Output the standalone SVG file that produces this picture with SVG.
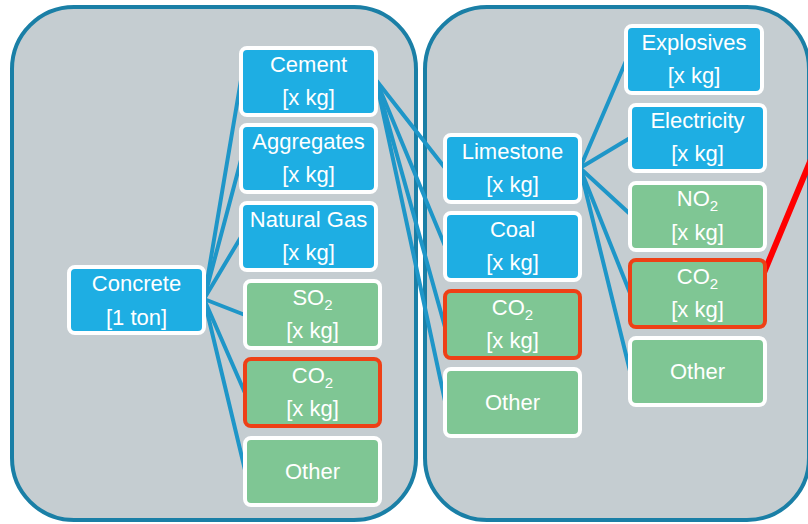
<svg xmlns="http://www.w3.org/2000/svg" width="808" height="524" viewBox="0 0 808 524">
<style>
.panel{fill:#c5cdd1;stroke:#1a7fa6;stroke-width:4}
.blue{fill:#1eaee3;stroke:#ffffff;stroke-width:4}
.green{fill:#7fc694;stroke:#ffffff;stroke-width:4}
.hl{fill:#7fc694;stroke:#ee4016;stroke-width:4}
.t{font-family:"Liberation Sans",Arial,sans-serif;font-size:22px;fill:#ffffff;text-anchor:middle}
.sub{font-size:15px}
.conn line{stroke:#1e96c8;stroke-width:4;stroke-linecap:round}
</style>
<rect width="808" height="524" fill="#ffffff"/>
<g id="panel-left"><rect class="panel" x="12" y="7" width="404" height="513" rx="62"/></g>
<g id="panel-right"><rect class="panel" x="425" y="7" width="384" height="513" rx="62"/></g>
<g class="conn" id="connectors">
<line x1="204" y1="299" x2="241" y2="80"/>
<line x1="204" y1="299" x2="241" y2="160"/>
<line x1="204" y1="299" x2="241" y2="237"/>
<line x1="204" y1="299" x2="245" y2="315"/>
<line x1="204" y1="299" x2="245" y2="393"/>
<line x1="204" y1="299" x2="245" y2="470"/>
<line x1="376" y1="80" x2="445" y2="168"/>
<line x1="376" y1="80" x2="445" y2="246"/>
<line x1="376" y1="80" x2="445" y2="327"/>
<line x1="376" y1="80" x2="445" y2="401"/>
<line x1="580" y1="168" x2="626" y2="61"/>
<line x1="580" y1="168" x2="630" y2="138"/>
<line x1="580" y1="168" x2="630" y2="214"/>
<line x1="580" y1="168" x2="630" y2="293"/>
<line x1="580" y1="168" x2="630" y2="371"/>
<line x1="763" y1="275" x2="812" y2="157" style="stroke:#ff0000;stroke-width:6"/>
</g>
<g id="concrete"><rect class="blue" x="69" y="267" width="135" height="66" rx="6"/><text class="t" x="136.5" y="291">Concrete</text><text class="t" x="136.5" y="325">[1 ton]</text></g>
<g id="cement"><rect class="blue" x="241" y="48" width="135" height="67" rx="6"/><text class="t" x="308.5" y="72">Cement</text><text class="t" x="308.5" y="105">[x kg]</text></g>
<g id="aggregates"><rect class="blue" x="241" y="125" width="135" height="67" rx="6"/><text class="t" x="308.5" y="149">Aggregates</text><text class="t" x="308.5" y="182">[x kg]</text></g>
<g id="natural-gas"><rect class="blue" x="241" y="203" width="135" height="67" rx="6"/><text class="t" x="308.5" y="227">Natural Gas</text><text class="t" x="308.5" y="260">[x kg]</text></g>
<g id="so2"><rect class="green" x="245" y="281" width="135" height="67" rx="6"/><text class="t" x="312.5" y="305">SO<tspan class="sub" dy="5">2</tspan></text><text class="t" x="312.5" y="338">[x kg]</text></g>
<g id="co2-left"><rect class="hl" x="245" y="359" width="135" height="67" rx="6"/><text class="t" x="312.5" y="383">CO<tspan class="sub" dy="5">2</tspan></text><text class="t" x="312.5" y="416">[x kg]</text></g>
<g id="other-left"><rect class="green" x="245" y="438" width="135" height="67" rx="6"/><text class="t" x="312.5" y="479">Other</text></g>
<g id="limestone"><rect class="blue" x="445" y="135" width="135" height="67" rx="6"/><text class="t" x="512.5" y="159">Limestone</text><text class="t" x="512.5" y="192">[x kg]</text></g>
<g id="coal"><rect class="blue" x="445" y="213" width="135" height="67" rx="6"/><text class="t" x="512.5" y="237">Coal</text><text class="t" x="512.5" y="270">[x kg]</text></g>
<g id="co2-mid"><rect class="hl" x="445" y="291" width="135" height="67" rx="6"/><text class="t" x="512.5" y="315">CO<tspan class="sub" dy="5">2</tspan></text><text class="t" x="512.5" y="348">[x kg]</text></g>
<g id="other-mid"><rect class="green" x="445" y="369" width="135" height="67" rx="6"/><text class="t" x="512.5" y="410">Other</text></g>
<g id="explosives"><rect class="blue" x="626" y="26" width="136" height="67" rx="6"/><text class="t" x="694" y="50">Explosives</text><text class="t" x="694" y="83">[x kg]</text></g>
<g id="electricity"><rect class="blue" x="630" y="105" width="135" height="66" rx="6"/><text class="t" x="697.5" y="128">Electricity</text><text class="t" x="697.5" y="161">[x kg]</text></g>
<g id="no2"><rect class="green" x="630" y="183" width="135" height="67" rx="6"/><text class="t" x="697.5" y="206">NO<tspan class="sub" dy="5">2</tspan></text><text class="t" x="697.5" y="240">[x kg]</text></g>
<g id="co2-right"><rect class="hl" x="630" y="260" width="135" height="67" rx="6"/><text class="t" x="697.5" y="284">CO<tspan class="sub" dy="5">2</tspan></text><text class="t" x="697.5" y="317">[x kg]</text></g>
<g id="other-right"><rect class="green" x="630" y="338" width="135" height="67" rx="6"/><text class="t" x="697.5" y="379">Other</text></g>
</svg>
